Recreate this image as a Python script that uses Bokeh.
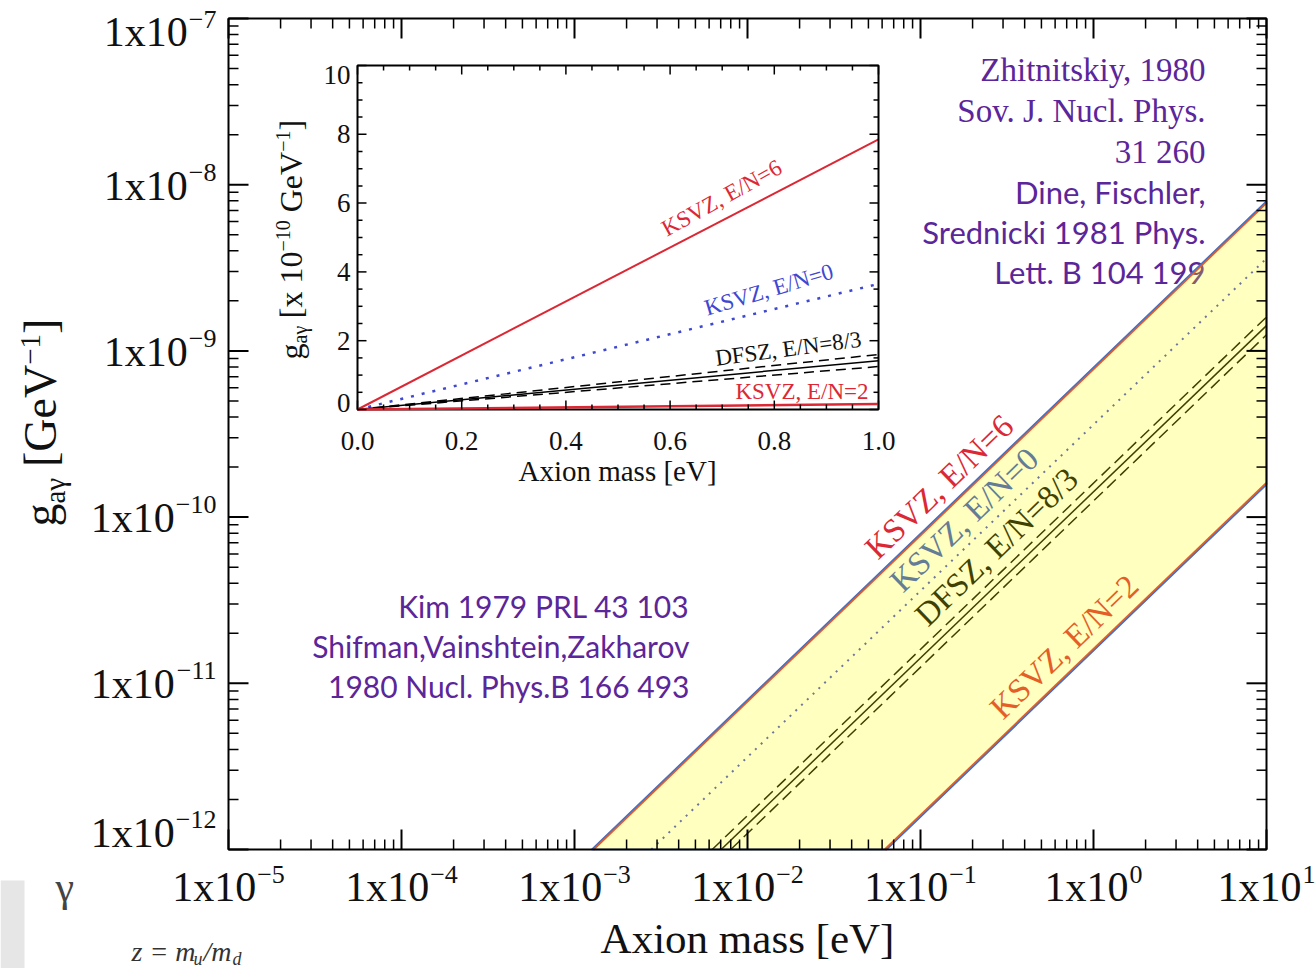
import math
from bokeh.plotting import figure
from bokeh.models import Range1d, LinearScale
from bokeh.core.properties import value
from bokeh.embed import file_html
from bokeh.resources import INLINE

# ---------------- data ----------------
x_decades = [-5, -4, -3, -2, -1, 0, 1]
x_tick_exp = ["\u22125", "\u22124", "\u22123", "\u22122", "\u22121", "0", "1"]
y_decades = [-12, -11, -10, -9, -8, -7]
y_tick_exp = ["\u221212", "\u221211", "\u221210", "\u22129", "\u22128", "\u22127"]

# main plot: coupling g_a-gamma [GeV^-1] at the ends of the mass range [eV]
mass_main = [1e-5, 1e1]
g_ksvz6_main = [7.8e-15, 7.8e-9]
g_ksvz0_main = [3.6e-15, 3.6e-9]
g_dfsz_main = [1.42e-15, 1.42e-9]
g_dfsz_hi_main = [1.6e-15, 1.6e-9]
g_dfsz_lo_main = [1.25e-15, 1.25e-9]
g_ksvz2_main = [1.6e-16, 1.6e-10]

# inset: g in units of 1e-10 GeV^-1, mass 0..1 eV
mass_inset = [0.0, 1.0]
g_ksvz6_inset = [0.0, 7.85]
g_ksvz0_inset = [0.0, 3.65]
g_dfsz_inset = [0.0, 1.42]
g_dfsz_hi_inset = [0.0, 1.6]
g_dfsz_lo_inset = [0.0, 1.25]
g_ksvz2_inset = [0.0, 0.16]

inset_xticks = [0.0, 0.2, 0.4, 0.6, 0.8, 1.0]
inset_xlabels = ["0.0", "0.2", "0.4", "0.6", "0.8", "1.0"]
inset_yticks = [0, 2, 4, 6, 8, 10]
inset_ylabels = ["0", "2", "4", "6", "8", "10"]

zh_lines = ["Zhitnitskiy, 1980", "Sov. J. Nucl. Phys.", "31 260"]
dfs_lines = ["Dine, Fischler,", "Srednicki 1981 Phys.", "Lett. B 104 199"]
kim_lines = ["Kim 1979 PRL 43 103", "Shifman,Vainshtein,Zakharov", "1980 Nucl. Phys.B 166 493"]

# ---------------- geometry (image pixels) ----------------
W, H = 1315, 968
FL, FR, FT, FB = 228, 1266, 18, 849
IL, IR, IT, IB = 357, 878, 65, 409
SERIF = "Liberation Serif"
SANS = "Lato"
INK = "#111111"
RED = "#DC2834"
BLUE = "#3F48D0"
PURPLE = "#5B2699"
XDEC = (FR - FL) / 6.0
YDEC = (FB - FT) / 5.0
PPX = float(IR - IL)
PPY = (IB - IT) / 10.0
BASE_FIX = 0.36   # em offset of the SVG alphabetic baseline


def mx(px):
    return 10 ** (x_decades[0] + (px - FL) / XDEC)


def my(py):
    return 10 ** (y_decades[-1] - (py - FT) / YDEC)


def ix(px):
    return (px - IL) / PPX


def iy(py):
    return (IB - py) / PPY


TW = {' ': .25, '[': .333, ']': .333, 'G': .722, 'e': .444, 'V': .722, 'g': .5,
      'a': .444, '\u03b3': .42, '\u2212': .564, 'x': .5}


def tw(s, size):
    return sum(TW.get(c, .5) for c in s) * size


p = figure(x_axis_type="log", y_axis_type="log",
           x_range=Range1d(mx(0), mx(W)), y_range=Range1d(my(H), my(0)),
           width=W, height=H, min_border=0,
           x_axis_location=None, y_axis_location=None,
           output_backend="svg", toolbar_location=None,
           background_fill_color="white", border_fill_color="white")
p.outline_line_color = None
p.xgrid.visible = False
p.ygrid.visible = False

p.extra_x_ranges = {"ix": Range1d(ix(0), ix(W))}
p.extra_y_ranges = {"iy": Range1d(iy(H), iy(0))}
p.extra_x_scales = {"ix": LinearScale()}
p.extra_y_scales = {"iy": LinearScale()}
I = dict(x_range_name="ix", y_range_name="iy")

xlo, xhi = 10.0 ** x_decades[0], 10.0 ** x_decades[-1]
ylo, yhi = 10.0 ** y_decades[0], 10.0 ** y_decades[-1]


def txt(xs, ys, texts, size, font=SERIF, color=INK, align="left", baseline="alphabetic",
        angle=0.0, style="normal", inset=False):
    n = len(xs)
    angs = angle if isinstance(angle, list) else [angle] * n
    X, Y = [], []
    for x, y, a in zip(xs, ys, angs):
        dx = dy = 0.0
        if baseline == "alphabetic":
            dx = -BASE_FIX * size * math.sin(a)
            dy = -BASE_FIX * size * math.cos(a)
        if inset:
            X.append(x + dx / PPX); Y.append(y - dy / PPY)
        else:
            X.append(x * 10 ** (dx / XDEC)); Y.append(y * 10 ** (-dy / YDEC))
    kw = I if inset else {}
    p.text(x=X, y=Y, text=texts, text_font=value(font), text_font_size=f"{size}px",
           text_color=color, text_align=align, text_baseline=baseline, angle=angs,
           text_font_style=style, **kw)


# ---------------- purple annotations ----------------
txt([mx(1205)] * 3, [my(81), my(122), my(163)], zh_lines, 33, color=PURPLE, align="right")
txt([mx(1205)] * 3, [my(203), my(243), my(283)], dfs_lines, 31, font=SANS, color=PURPLE, align="right")
txt([mx(689)] * 3, [my(616), my(656), my(696)], kim_lines, 30, font=SANS, color=PURPLE, align="right")


# ---------------- main lines (clipped to the plot box) ----------------
def clipped(ms, gs):
    k = gs[1] / ms[1]
    a = max(ms[0], ylo / k, xlo)
    b = min(ms[1], yhi / k, xhi)
    return [a, b], [k * a, k * b]


for gs, col, wdt, dash in [(g_ksvz6_main, RED, 2.5, "solid"),
                           (g_ksvz0_main, BLUE, 2, "2 6"),
                           (g_dfsz_main, "black", 1.5, "solid"),
                           (g_dfsz_hi_main, "black", 1.5, "12 6"),
                           (g_dfsz_lo_main, "black", 1.5, "12 6"),
                           (g_ksvz2_main, RED, 2.5, "solid")]:
    cx, cy = clipped(mass_main, gs)
    p.line(cx, cy, line_color=col, line_width=wdt, line_dash=dash)

ang = math.atan(YDEC / XDEC)
band_labels = ["KSVZ, E/N=6", "KSVZ, E/N=0", "DFSZ, E/N=8/3", "KSVZ, E/N=2"]
band_px = [(878, 561), (903, 594), (928, 628), (1003, 721)]
band_col = [RED, "#3050C8", "black", RED]
txt([mx(a) for a, b in band_px], [my(b) for a, b in band_px], band_labels, 33,
    color=band_col, angle=ang)

# ---------------- yellow band overlay ----------------
k6 = g_ksvz6_main[1] / mass_main[1] * 10 ** (1.5 / YDEC)
k2 = g_ksvz2_main[1] / mass_main[1] / 10 ** (1.5 / YDEC)
band_x = [ylo / k6, xhi, xhi, ylo / k2]
band_y = [ylo, k6 * xhi, k2 * xhi, ylo]
p.patch(band_x, band_y, fill_color="#FFFF00", fill_alpha=0.25,
        line_color="#4472C4", line_width=1.5)

# ---------------- main frame and ticks ----------------
p.quad(left=[xlo], right=[xhi], bottom=[ylo], top=[yhi], fill_color=None,
       line_color="black", line_width=2)
xt = [10.0 ** d for d in x_decades]
xmin = [k * 10.0 ** d for d in x_decades[:-1] for k in range(2, 10)]
yt = [10.0 ** d for d in y_decades]
ymin = [k * 10.0 ** d for d in y_decades[:-1] for k in range(2, 10)]
sx0, sy0, sx1, sy1, sw = [], [], [], [], []
for ticks, L, lw in [(xt, 20, 2), (xmin, 10, 1.5)]:
    fy = 10 ** (L / YDEC)
    for t in ticks:
        sx0 += [t, t]; sx1 += [t, t]; sy0 += [ylo, yhi]; sy1 += [ylo * fy, yhi / fy]; sw += [lw, lw]
for ticks, L, lw in [(yt, 20, 2), (ymin, 10, 1.5)]:
    fx = 10 ** (L / XDEC)
    for t in ticks:
        sx0 += [xlo, xhi]; sx1 += [xlo * fx, xhi / fx]; sy0 += [t, t]; sy1 += [t, t]; sw += [lw, lw]
p.segment(sx0, sy0, sx1, sy1, line_color="black", line_width=sw)

# ---------------- main tick labels ----------------
BASE, EXP = 42, 26
bx, by, ex, ey = [], [], [], []
for d, e in zip(x_decades, x_tick_exp):
    tx = FL + (d - x_decades[0]) * XDEC
    we = tw(e, EXP)
    start = tx - (84 + 1 + we) / 2
    bx.append(mx(start)); by.append(my(902))
    ex.append(mx(start + 85)); ey.append(my(883))
txt(bx, by, ["1x10"] * len(bx), BASE)
txt(ex, ey, x_tick_exp, EXP)

bx, by, ex, ey = [], [], [], []
for d, e in zip(y_decades, y_tick_exp):
    ty = FB - (d - y_decades[0]) * YDEC
    if d == y_decades[-1]:
        db, de = 29, 10
    elif d == y_decades[0]:
        db, de = -1, -21
    else:
        db, de = 16, -3
    we = tw(e, EXP)
    ex.append(mx(216)); ey.append(my(ty + de))
    bx.append(mx(216 - we - 1)); by.append(my(ty + db))
txt(ex, ey, y_tick_exp, EXP, align="right")
txt(bx, by, ["1x10"] * len(bx), BASE, align="right")

txt([mx(747)], [my(953)], ["Axion mass [eV]"], 43, align="center")


def rotated(x_base, y_start, pieces):
    y = y_start
    for text, size, shift, gap in pieces:
        y -= gap * size
        txt([mx(x_base - shift)], [my(y)], [text], size, angle=math.pi / 2)
        y -= tw(text, size)


rotated(57, 526, [("g", 46, 0, 0), ("a\u03b3", 29, -8, 0), ("[GeV", 46, 0, .25),
                  ("\u22121", 29, 17, 0), ("]", 46, 0, 0)])

# ---------------- inset ----------------
p.line(mass_inset, g_ksvz6_inset, line_color=RED, line_width=2, **I)
p.line(mass_inset, g_ksvz0_inset, line_color=BLUE, line_width=2.5, line_dash="3 8", **I)
p.line(mass_inset, g_dfsz_inset, line_color="black", line_width=1.5, **I)
p.line(mass_inset, g_dfsz_hi_inset, line_color="black", line_width=1.5, line_dash="10 6", **I)
p.line(mass_inset, g_dfsz_lo_inset, line_color="black", line_width=1.5, line_dash="10 6", **I)
p.quad(left=[0], right=[1], bottom=[0], top=[10], fill_color=None, line_color="black", line_width=2, **I)
p.line(mass_inset, g_ksvz2_inset, line_color=RED, line_width=2.5, **I)

xminor = [i * 0.05 for i in range(21) if i % 4]
yminor = [i * 0.5 for i in range(21) if i % 4]
tx0, tx1, ty0, ty1 = [], [], [], []
for t in inset_xticks:
    tx0 += [t, t]; tx1 += [t, t]; ty0 += [0, 10]; ty1 += [9 / PPY, 10 - 9 / PPY]
for t in xminor:
    tx0 += [t, t]; tx1 += [t, t]; ty0 += [0, 10]; ty1 += [5 / PPY, 10 - 5 / PPY]
for t in inset_yticks:
    tx0 += [0, 1]; tx1 += [9 / PPX, 1 - 9 / PPX]; ty0 += [t, t]; ty1 += [t, t]
for t in yminor:
    tx0 += [0, 1]; tx1 += [5 / PPX, 1 - 5 / PPX]; ty0 += [t, t]; ty1 += [t, t]
p.segment(tx0, ty0, tx1, ty1, line_color="black", line_width=1.5, **I)

txt(inset_xticks, [iy(440)] * len(inset_xticks), inset_xlabels, 27, align="center",
    baseline="middle", inset=True)
txt([ix(350)] * len(inset_yticks), [min(max(t, 0.2), 9.72) for t in inset_yticks],
    inset_ylabels, 27, align="right", baseline="middle", inset=True)
txt([ix(617)], [iy(481)], ["Axion mass [eV]"], 29, align="center", inset=True)

ins_lab = ["KSVZ, E/N=6", "KSVZ, E/N=0", "DFSZ, E/N=8/3"]
ins_px = [(667, 237), (707, 316), (716, 366)]
ins_ang = [math.radians(29), math.radians(16.5), math.radians(7.5)]
txt([ix(a) for a, b in ins_px], [iy(b) for a, b in ins_px], ins_lab, 23,
    color=[RED, BLUE, INK], angle=ins_ang, inset=True)
txt([ix(868)], [iy(399)], ["KSVZ, E/N=2"], 23, color=RED, align="right", inset=True)

rotated(302, 359, [("g", 32, 0, 0), ("a\u03b3", 20, -5, 0), ("[x 10", 32, 0, .25),
                   ("\u221210", 20, 12, 0), ("GeV", 32, 0, .25), ("\u22121", 20, 12, 0),
                   ("]", 32, 0, 0)])

# ---------------- screenshot remnants at the lower left ----------------
p.quad(left=[mx(0)], right=[mx(24)], bottom=[my(H)], top=[my(880)],
       fill_color="#E6E6E6", line_color=None)
txt([mx(55)], [my(902)], ["\u03b3"], 42, color="#444444")
txt([mx(131)], [my(961)], ["z = m"], 28, style="italic", color="#333333")
txt([mx(193)], [my(965)], ["u"], 18, style="italic", color="#333333")
txt([mx(203)], [my(961)], ["/m"], 28, style="italic", color="#333333")
txt([mx(232)], [my(965)], ["d"], 18, style="italic", color="#333333")

open("out.html", "w").write(file_html(p, INLINE))
